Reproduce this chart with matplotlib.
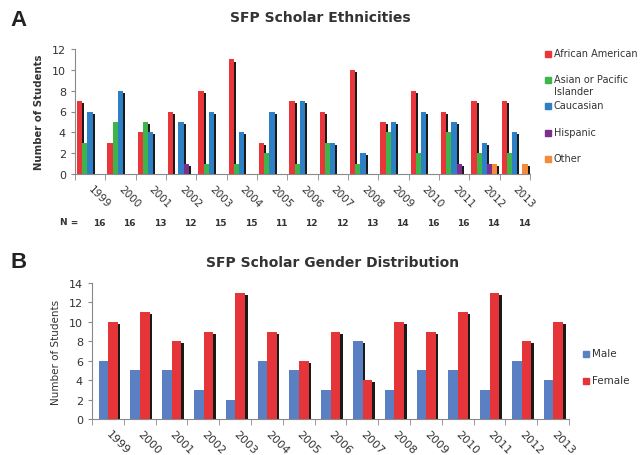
import numpy as np
import matplotlib
matplotlib.use("Agg")
import matplotlib.pyplot as plt
from matplotlib.patches import Rectangle

# ── Data ──────────────────────────────────────────────────────────────────────
years = ["1999", "2000", "2001", "2002", "2003", "2004", "2005", "2006",
         "2007", "2008", "2009", "2010", "2011", "2012", "2013"]
n_totals = [16, 16, 13, 12, 15, 15, 11, 12, 12, 13, 14, 16, 16, 14, 14]

eth_names = ["African American", "Asian or Pacific\nIslander", "Caucasian",
             "Hispanic", "Other"]
african_american = [7, 3, 4, 6, 8, 11, 3, 7, 6, 10, 5, 8, 6, 7, 7]
asian_pacific    = [3, 5, 5, 0, 1, 1, 2, 1, 3, 1, 4, 2, 4, 2, 2]
caucasian        = [6, 8, 4, 5, 6, 4, 6, 7, 3, 2, 5, 6, 5, 3, 4]
hispanic         = [0, 0, 0, 1, 0, 0, 0, 0, 0, 0, 0, 0, 1, 1, 0]
other            = [0, 0, 0, 0, 0, 0, 0, 0, 0, 0, 0, 0, 0, 1, 1]

gender_names = ["Male", "Female"]
male   = [6, 5, 5, 3, 2, 6, 5, 3, 8, 3, 5, 5, 3, 6, 4]
female = [10, 11, 8, 9, 13, 9, 6, 9, 4, 10, 9, 11, 13, 8, 10]

eth_colors = ["#e8363a", "#3db54a", "#2d7fc6", "#7d2f8e", "#f58a3c"]
gender_colors = ["#5b7fc3", "#e53539"]

TEXT = "#333333"
SPINE = "#8a8a8a"
PX_W, PX_H = 642, 456


def fx(px):
    return px / PX_W


def fy(px):
    return 1 - px / PX_H


def shadow_bars(ax, series, colors, width, first_off, dx, dy):
    x = np.arange(len(years))
    # shadows first so neighbouring bars sit on top of them
    for k, vals in enumerate(series):
        vals = np.asarray(vals, dtype=float)
        h = np.where(vals > 0, vals - dy, 0)
        ax.bar(x + first_off + k * width + dx, h, width, align="edge",
               color="#1a1a1a", linewidth=0, zorder=2)
    for k, vals in enumerate(series):
        ax.bar(x + first_off + k * width, vals, width, align="edge",
               color=colors[k], linewidth=0, zorder=3)


def style_axis(ax, ymax, label_size):
    ax.set_xlim(0, len(years))
    ax.set_ylim(0, ymax)
    ax.set_yticks(range(0, ymax + 1, 2))
    for s in ["top", "right"]:
        ax.spines[s].set_visible(False)
    for s in ["left", "bottom"]:
        ax.spines[s].set_color(SPINE)
        ax.spines[s].set_linewidth(0.8)
    ax.set_xticks(np.arange(len(years)) + 0.5)
    ax.set_xticklabels(years, rotation=-45, ha="left", va="center",
                       rotation_mode="anchor", fontsize=label_size, color=TEXT)
    ax.set_xticks(np.arange(len(years) + 1), minor=True)
    ax.tick_params(axis="x", which="major", length=0, pad=9)
    ax.tick_params(axis="x", which="minor", length=4, color=SPINE)
    ax.tick_params(axis="y", length=3, color=SPINE, labelsize=8, labelcolor=TEXT)


def draw_legend(fig, names, colors, x_px, y_px, size):
    for name, color, yy in zip(names, colors, y_px):
        fig.patches.append(Rectangle((fx(x_px), fy(yy + 3)), fx(6), 6 / PX_H,
                                     transform=fig.transFigure, color=color))
        fig.text(fx(x_px + 9), fy(yy - 6), name, fontsize=size, color=TEXT,
                 va="top", ha="left", linespacing=1.25)


fig = plt.figure(figsize=(PX_W / 100, PX_H / 100), dpi=100)

# ── Panel A: ethnicities ──────────────────────────────────────────────────────
axA = fig.add_axes([fx(75), fy(175), fx(455), 125 / PX_H])
shadow_bars(axA, [african_american, asian_pacific, caucasian, hispanic, other],
            eth_colors, 0.17, 0.07, 0.07, 0.2)
style_axis(axA, 12, 7.5)
axA.set_ylabel("Number of Students", fontsize=7.3, fontweight="bold",
               color=TEXT, labelpad=6)
fig.text(fx(320), fy(18), "SFP Scholar Ethnicities", fontsize=10,
         fontweight="bold", color=TEXT, ha="center", va="center")
fig.text(fx(10), fy(20), "A", fontsize=16, fontweight="bold",
         family="Liberation Sans", color="#222222", va="center")

fig.text(fx(60), fy(223), "N =", fontsize=6.5, fontweight="bold",
         color=TEXT, va="center")
for i, n in enumerate(n_totals):
    axA.text(i + 0.8, -0.0, str(n), fontsize=6.5, fontweight="bold",
             color=TEXT, ha="center", va="center",
             transform=axA.get_xaxis_transform() + matplotlib.transforms.ScaledTranslation(0, -48 / 100, fig.dpi_scale_trans))

draw_legend(fig, eth_names, eth_colors, 545, [55, 81, 107, 134, 160], 7)

# ── Panel B: gender ───────────────────────────────────────────────────────────
axB = fig.add_axes([fx(92), fy(420), fx(477), 136 / PX_H])
shadow_bars(axB, [male, female], gender_colors, 0.3, 0.21, 0.08, 0.2)
style_axis(axB, 14, 8)
axB.set_ylabel("Number of Students", fontsize=7.5, color=TEXT, labelpad=6)
fig.text(fx(333), fy(263), "SFP Scholar Gender Distribution", fontsize=10,
         fontweight="bold", color=TEXT, ha="center", va="center")
fig.text(fx(10), fy(262), "B", fontsize=16, fontweight="bold",
         family="Liberation Sans", color="#222222", va="center")

draw_legend(fig, gender_names, gender_colors, 583, [355, 382], 7.5)

fig.savefig("out.png", dpi=100)
